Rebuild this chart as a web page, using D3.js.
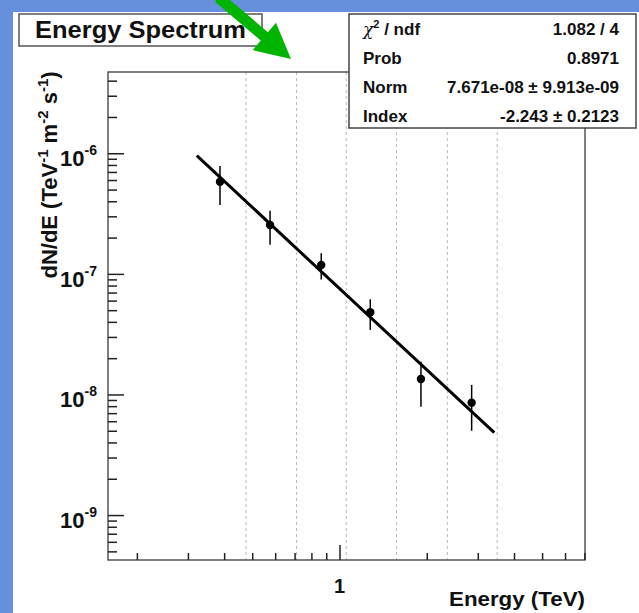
<!DOCTYPE html>
<html>
<head>
<meta charset="utf-8">
<script src="https://cdn.jsdelivr.net/npm/d3@7"></script>
<style>
  body { margin: 0; background: #6490dc; }
  svg { display: block; font-family: "Liberation Sans", Arial, sans-serif; font-weight: bold; }
</style>
</head>
<body>
<div id="chart"></div>
<script>
// spectrum points (TeV, TeV^-1 m^-2 s^-1)
const energy = [0.387, 0.576, 0.865, 1.277, 1.91, 2.857];
const flux = [5.81e-7, 2.54e-7, 1.186e-7, 4.81e-8, 1.345e-8, 8.55e-9];
const fluxHi = [7.85e-7, 3.33e-7, 1.48e-7, 6.15e-8, 1.87e-8, 1.2e-8];
const fluxLo = [3.73e-7, 1.74e-7, 9.0e-8, 3.43e-8, 7.9e-9, 5.0e-9];

// bin edges shown as dashed lines
const binEdges = [0.476, 0.711, 1.055, 1.573, 2.355, 3.5];

// fitted power law, end points of the drawn line
const fitE = [0.322, 3.42];
const fitF = [9.55e-7, 4.82e-9];

// stats box
const statNames = ["χ2 / ndf", "Prob", "Norm", "Index"];
const statValues = ["1.082 / 4", "0.8971", "7.671e-08 ± 9.913e-09", "-2.243 ± 0.2123"];

const yMajor = [1e-9, 1e-8, 1e-7, 1e-6];
const xMajor = [1];

const W = 639, H = 613;
const frame = { left: 108, right: 585, top: 72, bottom: 560 };

const svg = d3.select("#chart").append("svg")
    .attr("width", W)
    .attr("height", H);

// slide background + white canvas
svg.append("rect").attr("width", W).attr("height", H).attr("fill", "#6490dc");
svg.append("rect").attr("x", 13).attr("y", 12).attr("width", W - 13).attr("height", H - 12).attr("fill", "#fff");

const x = d3.scaleLog().domain([0.159, 7.03]).range([frame.left, frame.right]);
const y = d3.scaleLog().domain([4.24e-10, 4.72e-6]).range([frame.bottom, frame.top]);

// minor tick values from the scale domains
function minorTicks(scale) {
    const [a, b] = scale.domain();
    const out = [];
    for (let e = Math.floor(Math.log10(a)); e <= Math.ceil(Math.log10(b)); e++) {
        for (let k = 2; k <= 9; k++) {
            const v = k * Math.pow(10, e);
            if (v >= a && v <= b * 1.001) out.push(v);
        }
    }
    return out;
}

// dashed bin lines
svg.append("g").selectAll("line")
    .data(binEdges)
    .join("line")
    .attr("x1", d => x(d)).attr("x2", d => x(d))
    .attr("y1", frame.top).attr("y2", frame.bottom)
    .attr("stroke", "#b8b8b8")
    .attr("stroke-width", 1)
    .attr("stroke-dasharray", "3,3");

// frame
svg.append("rect")
    .attr("x", frame.left).attr("y", frame.top)
    .attr("width", frame.right - frame.left)
    .attr("height", frame.bottom - frame.top)
    .attr("fill", "none")
    .attr("stroke", "#555")
    .attr("stroke-width", 1.5);

// y axis ticks (inside the frame)
const yMinorAxis = d3.axisRight(y).tickValues(minorTicks(y)).tickSize(9).tickFormat("");
const yMajorAxis = d3.axisRight(y).tickValues(yMajor).tickSize(16).tickFormat("");
[yMinorAxis, yMajorAxis].forEach(ax => {
    const g = svg.append("g").attr("transform", `translate(${frame.left},0)`).call(ax);
    g.select(".domain").remove();
    g.selectAll("line").attr("stroke", "#222").attr("stroke-width", 1.5);
});

// x axis ticks
const xMinorAxis = d3.axisTop(x).tickValues(minorTicks(x)).tickSize(7).tickFormat("");
const xMajorAxis = d3.axisTop(x).tickValues(xMajor).tickSize(15).tickFormat("");
[xMinorAxis, xMajorAxis].forEach(ax => {
    const g = svg.append("g").attr("transform", `translate(0,${frame.bottom})`).call(ax);
    g.select(".domain").remove();
    g.selectAll("line").attr("stroke", "#222").attr("stroke-width", 1.5);
});

// y tick labels 10^n
const yLab = svg.append("g").selectAll("text")
    .data(yMajor)
    .join("text")
    .attr("x", 97)
    .attr("y", d => y(d) + 13)
    .attr("text-anchor", "end")
    .attr("font-size", 22)
    .attr("fill", "#111");
yLab.append("tspan").text("10");
yLab.append("tspan")
    .attr("dy", -11)
    .attr("font-size", 14)
    .text(d => Math.round(Math.log10(d)));

// x tick label
svg.append("g").selectAll("text")
    .data(xMajor)
    .join("text")
    .attr("x", d => x(d))
    .attr("y", 593)
    .attr("text-anchor", "middle")
    .attr("font-size", 20)
    .attr("fill", "#111")
    .text(d => d3.format("d")(d));

// axis titles
svg.append("text")
    .attr("x", 585).attr("y", 606)
    .attr("text-anchor", "end")
    .attr("font-size", 21)
    .attr("textLength", 136)
    .attr("lengthAdjust", "spacingAndGlyphs")
    .attr("fill", "#111")
    .text("Energy (TeV)");

const yTitle = svg.append("text")
    .attr("transform", "translate(57,175) rotate(-90)")
    .attr("text-anchor", "middle")
    .attr("font-size", 22)
    .attr("fill", "#111");
yTitle.append("tspan").text("dN/dE (TeV");
yTitle.append("tspan").attr("dy", -9).attr("font-size", 15).text("-1");
yTitle.append("tspan").attr("dy", 9).text(" m");
yTitle.append("tspan").attr("dy", -9).attr("font-size", 15).text("-2");
yTitle.append("tspan").attr("dy", 9).text(" s");
yTitle.append("tspan").attr("dy", -9).attr("font-size", 15).text("-1");
yTitle.append("tspan").attr("dy", 9).text(")");

// fit line
svg.append("line")
    .attr("x1", x(fitE[0])).attr("y1", y(fitF[0]))
    .attr("x2", x(fitE[1])).attr("y2", y(fitF[1]))
    .attr("stroke", "#000")
    .attr("stroke-width", 3);

// error bars + markers
const pts = energy.map((e, i) => ({ e, f: flux[i], hi: fluxHi[i], lo: fluxLo[i] }));
svg.append("g").selectAll("line")
    .data(pts)
    .join("line")
    .attr("x1", d => x(d.e)).attr("x2", d => x(d.e))
    .attr("y1", d => y(d.hi)).attr("y2", d => y(d.lo))
    .attr("stroke", "#000")
    .attr("stroke-width", 1.5);
svg.append("g").selectAll("circle")
    .data(pts)
    .join("circle")
    .attr("cx", d => x(d.e))
    .attr("cy", d => y(d.f))
    .attr("r", 4.2)
    .attr("fill", "#000");

// title box
svg.append("rect")
    .attr("x", 19).attr("y", 14).attr("width", 243).attr("height", 32)
    .attr("fill", "#fff").attr("stroke", "#555").attr("stroke-width", 1.5);
svg.append("text")
    .attr("x", 35).attr("y", 38)
    .attr("font-size", 23)
    .attr("textLength", 211)
    .attr("lengthAdjust", "spacingAndGlyphs")
    .attr("fill", "#111")
    .text("Energy Spectrum");

// stats box
svg.append("rect")
    .attr("x", 349).attr("y", 14).attr("width", 287).attr("height", 114)
    .attr("fill", "#fff").attr("stroke", "#444").attr("stroke-width", 1.5);
const rowY = d3.scalePoint().domain(statNames).range([35, 122]);
const names = svg.append("g").selectAll("text")
    .data(statNames)
    .join("text")
    .attr("x", 363)
    .attr("y", d => rowY(d))
    .attr("font-size", 17)
    .attr("fill", "#111");
names.each(function (d) {
    const t = d3.select(this);
    if (d.startsWith("χ2")) {
        t.append("tspan").attr("font-weight", "normal").attr("font-family", "DejaVu Serif").attr("font-style", "italic").text("χ");
        t.append("tspan").attr("dy", -7).attr("font-size", 11).text("2");
        t.append("tspan").attr("dy", 7).text(" / ndf");
    } else {
        t.text(d);
    }
});
svg.append("g").selectAll("text")
    .data(statValues)
    .join("text")
    .attr("x", 619)
    .attr("y", (d, i) => rowY(statNames[i]))
    .attr("text-anchor", "end")
    .attr("font-size", 17)
    .attr("fill", "#111")
    .text(d => d);

// green arrow pointing at the plot
const tip = [291, 59], ang = Math.atan2(36.5, 43), len = 95, shaftW = 11, headW = 36, headL = 35;
const ux = Math.cos(ang), uy = Math.sin(ang), px = -uy, py = ux;
const bx = tip[0] - ux * headL, by = tip[1] - uy * headL;
const sx = tip[0] - ux * len, sy = tip[1] - uy * len;
const arrow = [
    [sx + px * shaftW / 2, sy + py * shaftW / 2],
    [bx + px * shaftW / 2, by + py * shaftW / 2],
    [bx + px * headW / 2, by + py * headW / 2],
    tip,
    [bx - px * headW / 2, by - py * headW / 2],
    [bx - px * shaftW / 2, by - py * shaftW / 2],
    [sx - px * shaftW / 2, sy - py * shaftW / 2]
];
svg.append("path")
    .attr("d", d3.line()(arrow) + "Z")
    .attr("fill", "#00b400");
</script>
</body>
</html>
